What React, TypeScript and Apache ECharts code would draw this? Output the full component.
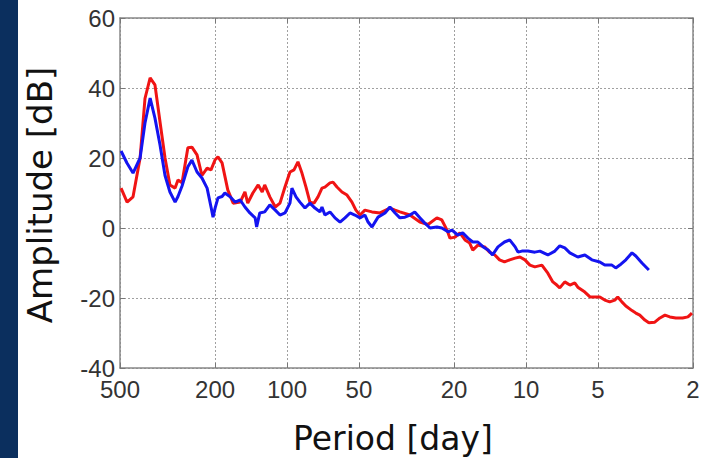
import React, { useEffect, useRef } from "react";
import * as echarts from "echarts";

const xTickPeriods = [500, 200, 100, 50, 20, 10, 5, 2];
const yMin = -40;
const yMax = 60;
const yStep = 20;

const redPeriod = [495, 467, 441, 412, 393, 374, 357, 340, 324, 309, 294, 286, 275, 260, 250, 238, 227, 216, 208, 200, 194.5, 187, 177, 168, 157, 150, 146, 139, 132, 127, 124, 118, 112, 107, 102, 97.2, 93.5, 90, 86.6, 83.3, 80.2, 77.1, 74.2, 71.4, 69.4, 66.1, 64.2, 61.8, 58.9, 56.1, 53.5, 51.5, 49.5, 47.2, 44.1, 40.8, 37.1, 35.3, 33.7, 30.6, 27.8, 25.7, 23.6, 22.5, 21.4, 20.8, 19.8, 18.9, 18.0, 17.2, 16.7, 15.9, 14.9, 14.2, 13.5, 12.9, 12.3, 11.7, 11.1, 10.6, 10.1, 9.63, 9.18, 8.58, 8.10, 7.72, 7.43, 7.22, 6.88, 6.55, 6.25, 6.07, 5.67, 5.40, 4.91, 4.68, 4.46, 4.25, 4.13, 3.97, 3.82, 3.60, 3.47, 3.34, 3.18, 3.06, 2.89, 2.75, 2.62, 2.50, 2.36, 2.21, 2.10, 2.02];
const redAmp = [11.4, 7.4, 8.9, 20, 37, 42.9, 40.9, 30.3, 20, 12.3, 11.4, 13.7, 12.9, 22.9, 23.1, 20.9, 15, 17.1, 16.6, 19.5, 20.3, 18.6, 10.9, 7.1, 7.4, 10.3, 7.1, 10, 12.3, 10.3, 12.3, 8.9, 6, 7.1, 11.7, 16, 16.6, 18.9, 15.7, 11.7, 7.4, 7.1, 8.9, 11.4, 11.7, 12.9, 13.1, 11.7, 10.3, 9.4, 7.4, 5.1, 3.7, 5.1, 4.6, 4.3, 5.7, 5.1, 4.6, 3.7, 1.7, 1.0, 2.9, 2.3, -0.6, -2.9, -2.6, -1.4, -3.4, -4.3, -6.3, -4.9, -5.4, -6.9, -7.7, -9.1, -9.7, -9.1, -8.6, -8.3, -9.1, -10.6, -11.1, -10.6, -12.9, -15.4, -16.3, -17.1, -15.4, -16.3, -15.7, -16.9, -18.3, -19.7, -19.7, -20.6, -21.1, -20.6, -19.7, -21.1, -22.3, -23.6, -24.3, -24.9, -26.3, -27.1, -26.9, -25.7, -24.9, -25.4, -25.7, -25.7, -25.4, -24.3];

const bluePeriod = [495, 467, 441, 412, 393, 374, 357, 340, 324, 309, 294, 286, 275, 260, 250, 238, 227, 216, 208, 204, 200, 194.5, 187, 182, 173, 165, 157, 150, 143, 136, 134, 130, 124, 118, 112, 107, 102, 97.2, 95.4, 91.7, 88.3, 84.1, 80.2, 76.4, 72.8, 71.4, 69.4, 66.1, 63.0, 60.0, 57.2, 54.5, 52.0, 49.5, 47.2, 45.8, 44.1, 41.6, 38.9, 37.1, 35.3, 33.7, 32.1, 30.6, 29.2, 27.8, 26.5, 25.2, 23.6, 22.5, 21.2, 20.4, 19.3, 18.4, 17.5, 16.7, 15.9, 15.1, 14.4, 13.8, 13.1, 12.3, 11.7, 11.1, 10.8, 10.4, 9.81, 9.18, 8.74, 8.10, 7.57, 7.22, 6.88, 6.55, 6.07, 5.67, 5.30, 4.91, 4.68, 4.37, 4.21, 4.05, 3.82, 3.60, 3.47, 3.27, 3.06];
const blueAmp = [22, 18.5, 15.7, 20, 30, 37.1, 31.4, 23.7, 15, 10.3, 7.4, 9, 12, 17.5, 19.4, 16, 14.3, 11.4, 6, 3.1, 5.7, 8.6, 9, 10, 8.9, 7.4, 8, 6, 4.3, 2.9, 0.3, 4.3, 4.6, 6.6, 5.1, 3.7, 4.3, 7.1, 11.4, 8.9, 7.4, 5.7, 7.1, 5.7, 4.6, 6, 3.7, 4.6, 2.9, 1.7, 2.9, 4.3, 3.7, 2.9, 3.7, 1.7, 0.3, 3.1, 4.3, 6, 4.3, 2.9, 3.1, 3.7, 4.6, 2.9, 1.4, 0, 0.3, 0, -1.1, -0.6, -2, -1.4, -2.9, -4, -4, -5.4, -6.3, -7.7, -5.4, -4, -3.4, -5.4, -6.9, -6.6, -6.6, -6.9, -6.6, -7.7, -6.6, -5.1, -5.7, -7.1, -8.3, -7.7, -9.1, -9.7, -10.6, -10.6, -11.4, -10.6, -9.1, -7.1, -8, -10, -12];

const xTitle = "Period [day]";
const yTitle = "Amplitude [dB]";

const toPairs = (p: number[], a: number[]) => p.map((v, i) => [Math.log10(v), a[i]]);

export default function App() {
  const ref = useRef<HTMLDivElement>(null);
  useEffect(() => {
    if (!ref.current) return;
    const chart = echarts.init(ref.current, null, { renderer: "svg" });
    const tickVals = xTickPeriods.map((p) => Math.log10(p));
    const xMin = Math.log10(Math.min(...xTickPeriods));
    const xMax = Math.log10(Math.max(...xTickPeriods));
    const labelStyle = { color: "#333", fontFamily: "Liberation Sans", fontSize: 24 };
    const fmt = (v: number) => String(Math.round(Math.pow(10, v)));
    chart.setOption({
      animation: false,
      backgroundColor: "#ffffff",
      grid: { left: 120, right: 13, top: 18, bottom: 90 },
      xAxis: [
        {
          type: "value",
          min: xMin,
          max: xMax,
          inverse: true,
          axisLine: { show: true, onZero: false, lineStyle: { color: "#888", width: 1.5 } },
          axisTick: { show: true, inside: true, length: 5, customValues: tickVals, lineStyle: { color: "#777" } },
          axisLabel: { ...labelStyle, margin: 9, customValues: tickVals, formatter: fmt },
          splitLine: { show: true, lineStyle: { color: "#a0a0a0", type: [2, 2], width: 1 } },
        },
        {
          type: "value",
          position: "top",
          min: xMin,
          max: xMax,
          inverse: true,
          axisLine: { show: true, onZero: false, lineStyle: { color: "#888", width: 1.5 } },
          axisTick: { show: true, inside: true, length: 5, customValues: tickVals, lineStyle: { color: "#777" } },
          axisLabel: { show: false },
          splitLine: { show: false },
        },
      ],
      yAxis: [
        {
          type: "value",
          min: yMin,
          max: yMax,
          interval: yStep,
          axisLine: { show: true, onZero: false, lineStyle: { color: "#888", width: 1.5 } },
          axisTick: { show: true, inside: true, length: 5, lineStyle: { color: "#777" } },
          axisLabel: { ...labelStyle, margin: 5 },
          splitLine: { show: true, lineStyle: { color: "#a0a0a0", type: [2, 2], width: 1 } },
        },
        {
          type: "value",
          position: "right",
          min: yMin,
          max: yMax,
          interval: yStep,
          axisLine: { show: true, onZero: false, lineStyle: { color: "#888", width: 1.5 } },
          axisTick: { show: true, inside: true, length: 5, lineStyle: { color: "#777" } },
          axisLabel: { show: false },
          splitLine: { show: false },
        },
      ],
      graphic: [
        { type: "rect", left: 0, top: 0, shape: { x: 0, y: 0, width: 18, height: 458 }, style: { fill: "#0b2f5e" } },
        {
          type: "text",
          x: 40,
          y: 195,
          rotation: Math.PI / 2,
          style: { text: yTitle, fill: "#111", font: "34px 'DejaVu Sans'", align: "center", verticalAlign: "middle" },
        },
        {
          type: "text",
          x: 393,
          y: 438,
          style: { text: xTitle, fill: "#111", font: "33px 'DejaVu Sans'", align: "center", verticalAlign: "middle" },
        },
      ],
      series: [
        {
          type: "line",
          name: "red",
          data: toPairs(redPeriod, redAmp),
          showSymbol: false,
          lineStyle: { color: "#f01414", width: 3 },
          itemStyle: { color: "#f01414" },
          z: 2,
        },
        {
          type: "line",
          name: "blue",
          data: toPairs(bluePeriod, blueAmp),
          showSymbol: false,
          lineStyle: { color: "#1414f0", width: 3 },
          itemStyle: { color: "#1414f0" },
          z: 3,
        },
      ],
    });
    return () => chart.dispose();
  }, []);
  return (
    <div
      ref={ref}
      style={{ position: "fixed", left: 0, top: 0, width: 706, height: 458 }}
    />
  );
}
